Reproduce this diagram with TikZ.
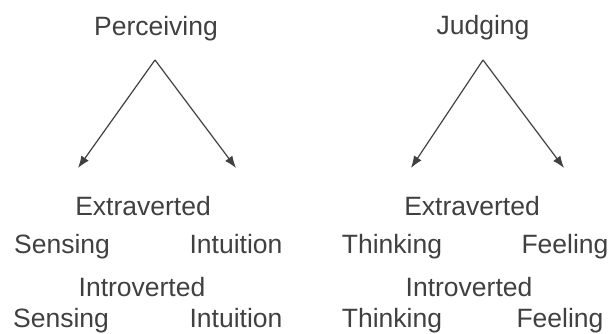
\documentclass[tikz,border=0pt]{standalone}
\usepackage{fontspec}
\setmainfont{Liberation Sans}
\usetikzlibrary{arrows.meta, positioning}

\begin{document}
\begin{tikzpicture}[x=1pt, y=1pt,
        lbl/.style={inner sep=0pt, anchor=base, text=black!75,
                    font=\fontsize{26.5}{30}\selectfont},
        arr/.style={-{Latex[length=12pt,width=9pt]}, line width=1.2pt, black!75}]
      \useasboundingbox (0,0) rectangle (610,334);
      % top headings
      \node[lbl] (perc) at (156,298) {Perceiving};
      \node[lbl] (judg) at (483,299) {Judging};
      \coordinate (papex) at (155,274);
      \coordinate (japex) at (483,274);
      \coordinate (ptipl) at (78,166);
      \coordinate (ptipr) at (236,166);
      \coordinate (jtipl) at (411,166);
      \coordinate (jtipr) at (564,166);
      \draw[arr] (papex) -- (ptipl);
      \draw[arr] (papex) -- (ptipr);
      \draw[arr] (japex) -- (jtipl);
      \draw[arr] (japex) -- (jtipr);
      % perceiving side
      \node[lbl] (pext) at (143,118) {Extraverted};
      \node[lbl] (psen) at (62,80) {Sensing};
      \node[lbl] (pint) at (236,80) {Intuition};
      \node[lbl] (pintro) at (142,37) {Introverted};
      \node[lbl] (psen2) at (61,6) {Sensing};
      \node[lbl] (pint2) at (236,6) {Intuition};
      % judging side
      \node[lbl] (jext) at (472,118) {Extraverted};
      \node[lbl] (jthi) at (392,80) {Thinking};
      \node[lbl] (jfee) at (565,80) {Feeling};
      \node[lbl] (jintro) at (469,37) {Introverted};
      \node[lbl] (jthi2) at (392,6) {Thinking};
      \node[lbl] (jfee2) at (560,6) {Feeling};
    \end{tikzpicture}
\end{document}
